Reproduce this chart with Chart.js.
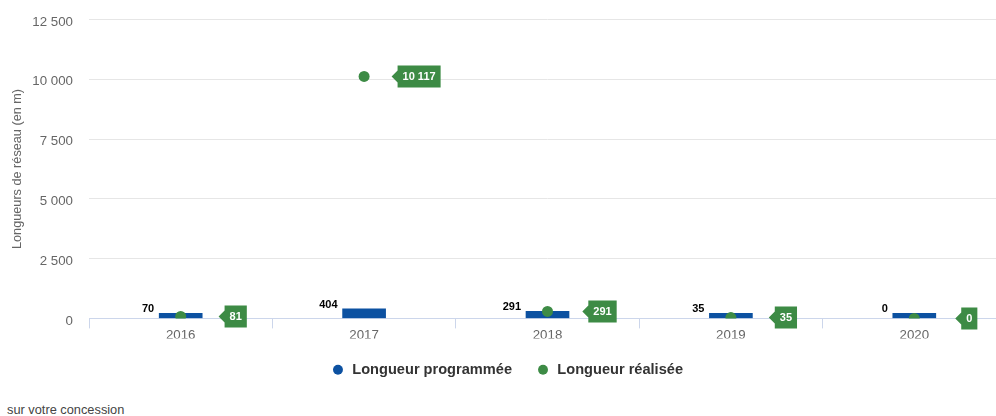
<!DOCTYPE html>
<html>
<head>
<meta charset="utf-8">
<script src="https://cdn.jsdelivr.net/npm/chart.js@4"></script>
<style>
  body { margin: 0; background: #fff; overflow: hidden; width: 996px; height: 416px; position: relative; }
  #chart { position: absolute; left: 0; top: 0; }
  #note { position: absolute; left: 7px; top: 402px; font: 12.8px "Liberation Sans", Arial, sans-serif; color: #444; }
</style>
</head>
<body>
<canvas id="chart" width="1016" height="395"></canvas>
<div id="note">sur votre concession</div>
<script>
// Data
const years = ["2016", "2017", "2018", "2019", "2020"];
const programmed = [70, 404, 291, 35, 0];
const realised = [81, 10117, 291, 35, 0];
const yTicks = [0, 2500, 5000, 7500, 10000, 12500];

const blue = "#0c51a1";
const green = "#3d8b45";

Chart.defaults.font.family = "'Liberation Sans', Arial, sans-serif";

// "12 500" style
function fmt(n) {
    return String(n).replace(/\B(?=(\d{3})+(?!\d))/g, " ");
}

// data labels: plain text left of the bars, green callouts right of the points
const valueLabels = {
    id: "valueLabels",
    afterDatasetsDraw(chart) {
        const ctx = chart.ctx;
        ctx.save();
        ctx.font = "bold 11px 'Liberation Sans', Arial, sans-serif";
        ctx.textBaseline = "middle";

        const bars = chart.getDatasetMeta(0).data;
        bars.forEach((bar, i) => {
            ctx.fillStyle = "#000";
            ctx.textAlign = "right";
            ctx.fillText(fmt(programmed[i]), bar.x - bar.width / 2 - 5, bar.y - 4);
        });

        const pts = chart.getDatasetMeta(1).data;
        pts.forEach((pt, i) => {
            const txt = fmt(realised[i]);
            const w = ctx.measureText(txt).width + 10;
            const h = 22;
            const cx = pt.x + 55;
            const left = cx - w / 2;
            const top = pt.y - h / 2;
            ctx.fillStyle = green;
            ctx.beginPath();
            ctx.moveTo(left - 6, pt.y);
            ctx.lineTo(left, pt.y - 6);
            ctx.lineTo(left, top);
            ctx.lineTo(left + w, top);
            ctx.lineTo(left + w, top + h);
            ctx.lineTo(left, top + h);
            ctx.lineTo(left, pt.y + 6);
            ctx.closePath();
            ctx.fill();
            ctx.fillStyle = "#fff";
            ctx.textAlign = "center";
            ctx.fillText(txt, cx, pt.y + 0.5);
        });
        ctx.restore();
    }
};

new Chart(document.getElementById("chart"), {
    type: "bar",
    data: {
        labels: years,
        datasets: [
            {
                type: "bar",
                label: "Longueur programmée",
                data: programmed,
                backgroundColor: blue,
                barThickness: 43,
                minBarLength: 5,
                order: 1
            },
            {
                type: "line",
                label: "Longueur réalisée",
                data: realised,
                showLine: false,
                backgroundColor: green,
                borderColor: green,
                borderWidth: 0,
                pointRadius: 5.5,
                pointBorderWidth: 0,
                pointBackgroundColor: green,
                order: 0
            }
        ]
    },
    options: {
        responsive: false,
        animation: false,
        layout: { padding: { left: 8, right: 10, top: 19.5, bottom: 8 } },
        scales: {
            x: {
                offset: true,
                grid: { offset: true, drawOnChartArea: false, drawTicks: true, tickLength: 10, color: "#ccd6eb" },
                border: { color: "#ccd6eb" },
                ticks: { color: "#666", padding: -1, font: { size: 13.3 } },
                afterFit: s => { s.height = 20; }
            },
            y: {
                min: 0,
                max: 12500,
                afterBuildTicks: s => { s.ticks = yTicks.map(v => ({ value: v })); },
                // invisible tick marks keep the labels clear of the plot
                grid: { color: "#e6e6e6", drawTicks: true, tickLength: 16, tickColor: "rgba(0,0,0,0)" },
                border: { display: false },
                ticks: { color: "#666", padding: 0, labelOffset: 2.5, font: { size: 13.3 }, callback: v => fmt(v) },
                title: {
                    display: true,
                    text: "Longueurs de réseau (en m)",
                    color: "#666",
                    font: { size: 12.7 },
                    padding: { top: 1.4, bottom: 0 }
                },
                afterFit: s => { s.width = 81; }
            }
        },
        plugins: {
            tooltip: { enabled: false },
            legend: {
                position: "bottom",
                labels: {
                    usePointStyle: true,
                    pointStyle: "circle",
                    boxWidth: 14,
                    boxHeight: 7,
                    padding: 24,
                    color: "#333",
                    font: { size: 14.6, weight: "bold" },
                    sort: (a, b) => a.datasetIndex - b.datasetIndex
                }
            }
        }
    },
    plugins: [valueLabels]
});
</script>
</body>
</html>
